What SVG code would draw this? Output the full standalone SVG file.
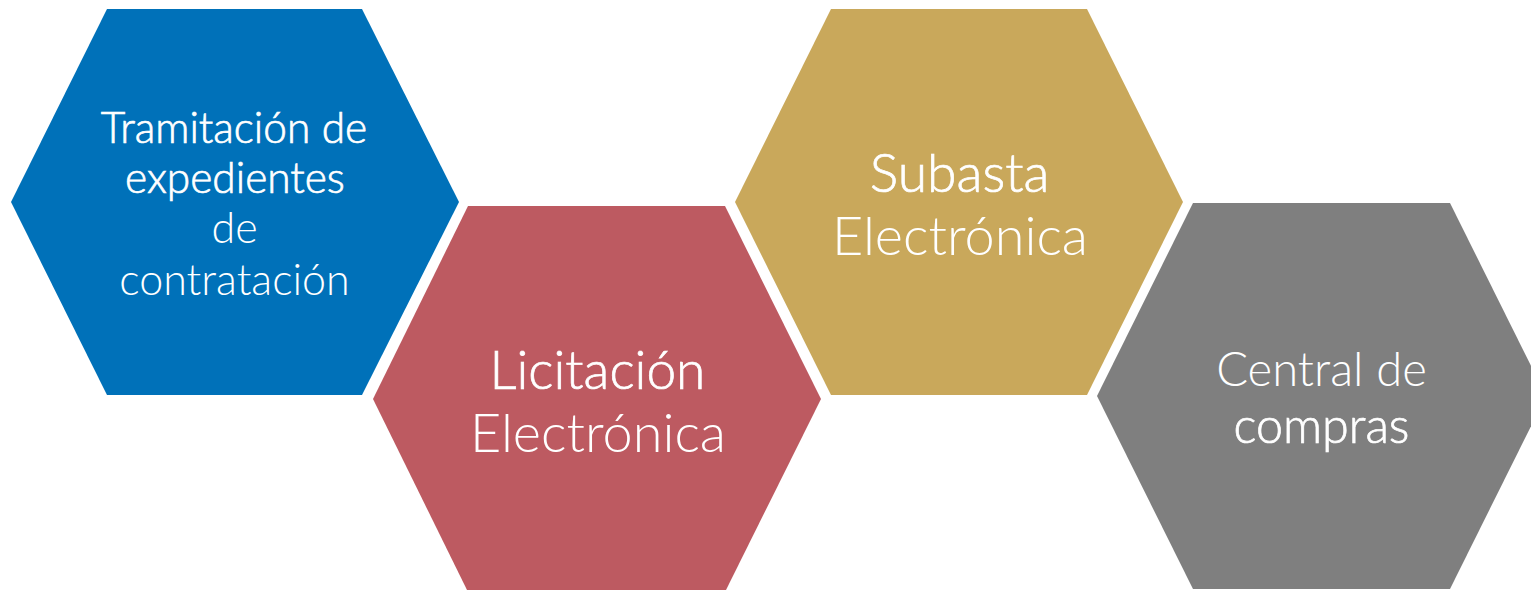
<svg xmlns="http://www.w3.org/2000/svg" width="1531" height="590" viewBox="0 0 1531 590">
<style>
.t{font-family:Lato,"Open Sans","Liberation Sans",sans-serif;fill:#FFFFFF;text-anchor:middle;font-weight:300}
.r{stroke:#FFFFFF;stroke-width:0.7}
</style>
<rect x="0" y="0" width="1531" height="590" fill="#FFFFFF"/>
<g id="node-tramitacion">
<polygon points="107,9 362,9 459,202 362,395 107,395 11,202" fill="#0071B9"/>
<text class="t r" x="234" y="143" font-size="42.4">Tramitación de</text>
<text class="t r" x="235" y="193" font-size="42.4">expedientes</text>
<text class="t" x="234.5" y="243" font-size="43">de</text>
<text class="t" x="234.5" y="295" font-size="43">contratación</text>
</g>
<g id="node-licitacion">
<polygon points="468,206 725,206 821,399 725,592 468,592 373,399" fill="#BD5A61"/>
<text class="t r" x="597.5" y="389" font-size="53.3">Licitación</text>
<text class="t" x="598" y="452" font-size="54">Electrónica</text>
</g>
<g id="node-subasta">
<polygon points="831,9 1087,9 1183,202 1087,395 831,395 735,202" fill="#C9A85B"/>
<text class="t r" x="959.5" y="192" font-size="53.5">Subasta</text>
<text class="t" x="960" y="255" font-size="54">Electrónica</text>
</g>
<g id="node-central">
<polygon points="1193,203 1450,203 1546,396 1450,589 1193,589 1097,396" fill="#7F7F7F"/>
<text class="t" x="1321.5" y="386" font-size="47.2">Central de</text>
<text class="t r" x="1321.5" y="443" font-size="48.5">compras</text>
</g>
<g id="connectors"></g>
</svg>
